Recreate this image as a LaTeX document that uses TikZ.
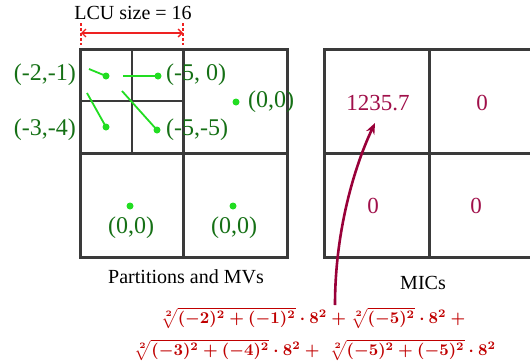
\documentclass[tikz,border=0pt]{standalone}
\usepackage{graphicx}
\usepackage{fontspec}
\setmainfont{Liberation Serif}
\usetikzlibrary{arrows.meta}
\definecolor{gridc}{HTML}{3A3A3A}
\definecolor{mvtext}{HTML}{157015}
\definecolor{mvdot}{HTML}{22DD22}
\definecolor{micc}{HTML}{A0104A}
\definecolor{arrc}{HTML}{990039}
\definecolor{formc}{HTML}{C00000}
\definecolor{lcured}{HTML}{EE2222}
\newcommand{\myformA}{\scalebox{1.65}{\boldmath$\sqrt[2]{(-2)^2+(-1)^2}\cdot 8^2+\sqrt[2]{(-5)^2}\cdot 8^2+{}$}}
\newcommand{\myformB}{\scalebox{1.65}{\boldmath$\sqrt[2]{(-3)^2+(-4)^2}\cdot 8^2+\;\sqrt[2]{(-5)^2+(-5)^2}\cdot 8^2$}}
\begin{document}
\begin{tikzpicture}[x=1pt,y=-1pt,
  outer/.style={draw=gridc,line width=3pt},
  inner/.style={draw=gridc,line width=1.5pt},
  mvlabel/.style={text=mvtext,font=\fontsize{24}{26}\selectfont,inner sep=0pt},
  mvdotst/.style={circle,fill=mvdot,inner sep=0pt,minimum size=7pt},
  mvline/.style={draw=mvdot,line width=1.8pt},
  micval/.style={text=micc,font=\fontsize{23}{25}\selectfont,inner sep=0pt},
  captionst/.style={font=\fontsize{20}{22}\selectfont,inner sep=0pt},
  fmla/.style={text=formc,inner sep=0pt}
]
\useasboundingbox (0,0) rectangle (530,364);
% left grid
\draw[inner] (132,49) -- (132,153);
\draw[inner] (80,101) -- (183,101);
\draw[outer] (183,49) -- (183,257);
\draw[outer] (80,153) -- (287,153);
\draw[outer] (80,49) rectangle (287,257);
% right grid
\draw[outer] (531,49) -- (324,49) -- (324,257) -- (531,257);
\draw[outer] (324,153) -- (531,153);
\draw[outer] (429,49) -- (429,257);
% LCU size
\node[captionst] (lcu) at (133,13) {LCU size = 16};
\coordinate (la1) at (81,23);
\coordinate (la2) at (81,45);
\coordinate (lb1) at (183,23);
\coordinate (lb2) at (183,45);
\draw[lcured,line width=1.4pt,dash pattern=on 3pt off 2pt] (la1) -- (la2);
\draw[lcured,line width=1.4pt,dash pattern=on 3pt off 2pt] (lb1) -- (lb2);
\coordinate (arl) at (81,33);
\coordinate (arr) at (183,33);
\draw[lcured,line width=1.3pt,{Straight Barb[length=4pt]}-{Straight Barb[length=4pt]}] (arl) -- (arr);
% MV dots
\node[mvdotst] (d1) at (106,76) {};
\node[mvdotst] (d2) at (158,76) {};
\node[mvdotst] (d3) at (106,127) {};
\node[mvdotst] (d4) at (157,130) {};
\node[mvdotst] (d5) at (236,102) {};
\node[mvdotst] (d6) at (130,206) {};
\node[mvdotst] (d7) at (233,206) {};
\coordinate (s1) at (89,69);
\coordinate (s2) at (123,76);
\coordinate (s3) at (87,93);
\coordinate (s4) at (122,91);
\draw[mvline] (s1) -- (d1.center);
\draw[mvline] (s2) -- (d2.center);
\draw[mvline] (s3) -- (d3.center);
\draw[mvline] (s4) -- (d4.center);
% MV labels
\node[mvlabel,anchor=east] (t1) at (76,75) {(-2,-1)};
\node[mvlabel,anchor=west] (t2) at (166,75) {(-5, 0)};
\node[mvlabel,anchor=west] (t5) at (248,102) {(0,0)};
\node[mvlabel,anchor=east] (t3) at (76,130) {(-3,-4)};
\node[mvlabel,anchor=west] (t4) at (166,130) {(-5,-5)};
\node[mvlabel] (t6) at (131,228) {(0,0)};
\node[mvlabel] (t7) at (234,228) {(0,0)};
% captions
\node[captionst] (cap1) at (186,277) {Partitions and MVs};
\node[captionst] (cap2) at (423,283) {MICs};
% MIC values
\node[micval] (m1) at (378,103) {1235.7};
\node[micval] (m2) at (482,103) {0};
\node[micval] (m3) at (373,206) {0};
\node[micval] (m4) at (476,206) {0};
% formula
\node[fmla] (f1) at (315,318) {\myformA};
\node[fmla] (f2) at (315,350) {\myformB};
% arrow
\coordinate (fa) at (335,305);
\coordinate (mtip) at (375,123);
\draw[arrc,line width=2.6pt,-{Stealth[length=11pt,width=9pt]}] (fa) .. controls (335,230) and (355,165) .. (mtip);
\end{tikzpicture}
\end{document}
